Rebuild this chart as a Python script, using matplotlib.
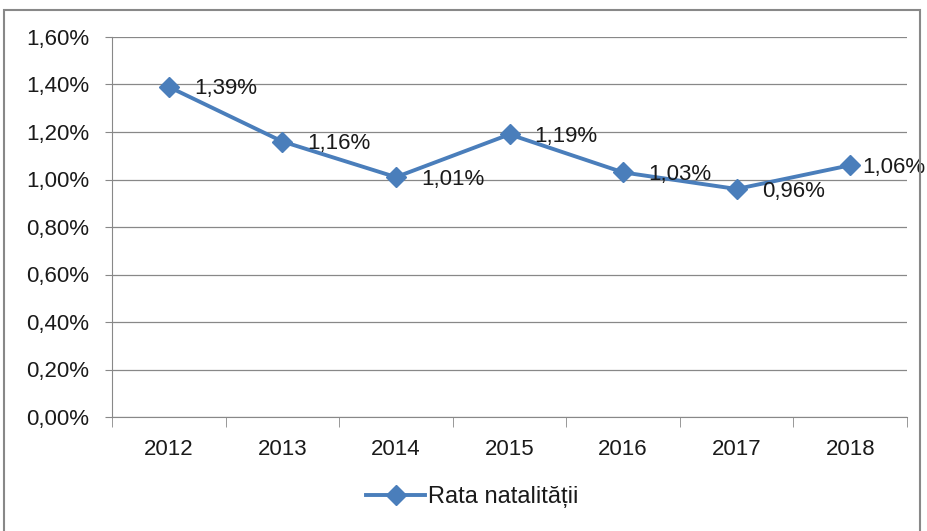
import matplotlib.pyplot as plt
from matplotlib.patches import Rectangle
from matplotlib.ticker import FuncFormatter

years = ['2012', '2013', '2014', '2015', '2016', '2017', '2018']
rates = [1.39, 1.16, 1.01, 1.19, 1.03, 0.96, 1.06]
labels = ['1,39%', '1,16%', '1,01%', '1,19%', '1,03%', '0,96%', '1,06%']

plt.rcParams['font.family'] = ['Liberation Sans', 'DejaVu Sans']
blue = '#4A7EBB'

fig = plt.figure(figsize=(9.28, 5.31), dpi=100)
ax = fig.add_axes([112 / 928, 1 - 417 / 531, 795 / 928, 380 / 531])

x = list(range(len(years)))
ax.plot(x, rates, color=blue, lw=2.8, marker='D', markersize=10.5, label='Rata natalității', zorder=3)
for xi, yi, t in zip(x, rates, labels):
    # last label sits closer to its point so it fits in the frame
    dx = 9 if xi == x[-1] else 18
    ax.annotate(t, (xi, yi), xytext=(dx, -1.5), textcoords='offset points',
                ha='left', va='center', fontsize=16, color='#1a1a1a',
                annotation_clip=False)

ax.set_xlim(-0.5, len(years) - 0.5)
ax.set_ylim(0, 1.6)
ax.set_yticks([i * 0.2 for i in range(9)])
ax.yaxis.set_major_formatter(FuncFormatter(lambda v, p: f'{v:.2f}%'.replace('.', ',')))
ax.set_xticks(x)
ax.set_xticklabels(years)
ax.set_xticks([i - 0.5 for i in range(len(years) + 1)], minor=True)
ax.tick_params(axis='x', which='major', length=0, pad=15.5, labelsize=16, labelcolor='#1a1a1a')
ax.tick_params(axis='x', which='minor', length=7, color='#888888')
ax.tick_params(axis='y', length=5, color='#888888', labelsize=16, pad=11.5, labelcolor='#1a1a1a')
ax.grid(axis='y', color='#888888', lw=0.9)
ax.set_axisbelow(True)
for s in ['top', 'right']:
    ax.spines[s].set_visible(False)
for s in ['left', 'bottom']:
    ax.spines[s].set_color('#888888')

fig.legend(loc='center', bbox_to_anchor=(472 / 928, 1 - 497 / 531), frameon=False,
           fontsize=17, handlelength=2.5, handletextpad=0.1, labelcolor='#1a1a1a')

fig.patches.append(Rectangle((4 / 928, -0.05), 916 / 928, 1.05 - 10 / 531,
                             transform=fig.transFigure, fill=False,
                             edgecolor='#888888', lw=1.5))

fig.savefig('out.png', dpi=100)
